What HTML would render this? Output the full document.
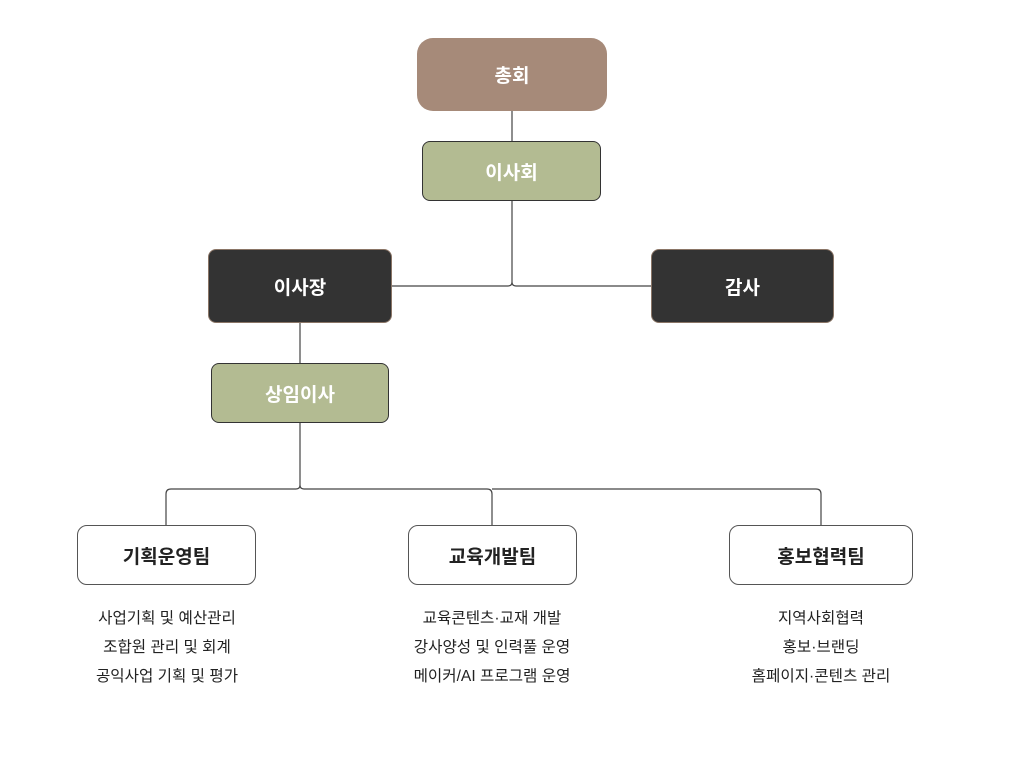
<!DOCTYPE html>
<html><head><meta charset="utf-8"><style>
body{margin:0;width:1024px;height:768px;background:#fff;position:relative;overflow:hidden;font-family:"Liberation Sans","Noto Sans CJK KR",sans-serif}
.b{position:absolute;box-sizing:border-box;display:flex;align-items:center;justify-content:center;font-weight:bold;font-size:19px}
.t{position:absolute;text-align:center;font-size:15.6px;color:#222;line-height:29px}
</style></head><body>
<svg width="1024" height="768" style="position:absolute;left:0;top:0" fill="none" stroke="#444" stroke-width="1.2">
<path d="M512 111V141M512 201V282q0 4 -4 4H392M512 282q0 4 4 4H651"/>
<path d="M300 323V363M300 423V485q0 4 -4 4H171q-5 0 -5 5V525M300 485q0 4 4 4H487q5 0 5 5V525M492 489H816q5 0 5 5V525"/>
</svg>
<div class="b" style="left:417px;top:38px;width:190px;height:73px;background:#a68a79;border-radius:16px;color:#fff">총회</div>
<div class="b" style="left:422px;top:141px;width:179px;height:60px;background:#b3bb92;border:1px solid #333;border-radius:8px;color:#fff">이사회</div>
<div class="b" style="left:208px;top:249px;width:184px;height:74px;background:#333;border:1px solid #8a7566;border-radius:8px;color:#fff">이사장</div>
<div class="b" style="left:651px;top:249px;width:183px;height:74px;background:#333;border:1px solid #8a7566;border-radius:8px;color:#fff">감사</div>
<div class="b" style="left:211px;top:363px;width:178px;height:60px;background:#b3bb92;border:1px solid #333;border-radius:8px;color:#fff">상임이사</div>
<div class="b" style="left:77px;top:525px;width:179px;height:60px;background:#fff;border:1px solid #555;border-radius:10px;color:#222">기획운영팀</div>
<div class="b" style="left:408px;top:525px;width:169px;height:60px;background:#fff;border:1px solid #555;border-radius:10px;color:#222">교육개발팀</div>
<div class="b" style="left:729px;top:525px;width:184px;height:60px;background:#fff;border:1px solid #555;border-radius:10px;color:#222">홍보협력팀</div>
<div class="t" style="left:57px;top:604px;width:220px">사업기획 및 예산관리<br>조합원 관리 및 회계<br>공익사업 기획 및 평가</div>
<div class="t" style="left:382px;top:604px;width:220px">교육콘텐츠·교재 개발<br>강사양성 및 인력풀 운영<br>메이커/AI 프로그램 운영</div>
<div class="t" style="left:711px;top:604px;width:220px">지역사회협력<br>홍보·브랜딩<br>홈페이지·콘텐츠 관리</div>
</body></html>
